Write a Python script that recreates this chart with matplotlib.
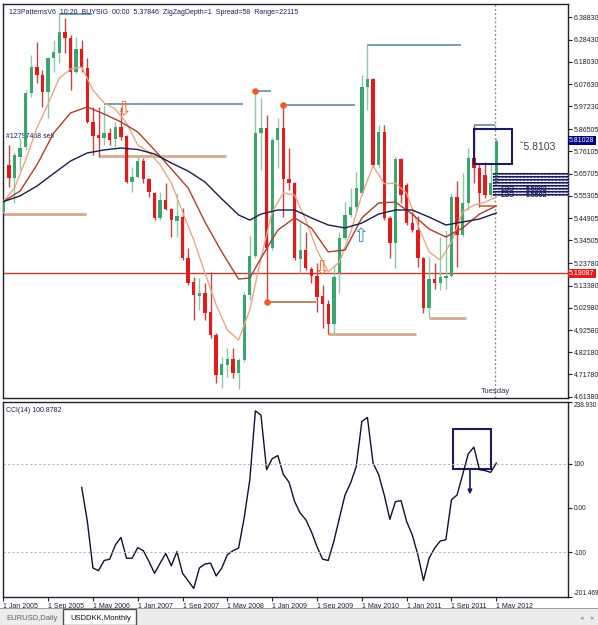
import matplotlib
matplotlib.use("Agg")
import matplotlib.pyplot as plt
import matplotlib.transforms as mtrans
from matplotlib.patches import Rectangle
import numpy as np

plt.rcParams['font.family'] = ['Liberation Sans', 'DejaVu Sans']

# USDDKK monthly bars, Jan 2005 .. May 2012
opens = [5.476, 5.698, 5.635, 5.736, 5.783, 6.033, 6.157, 6.118, 6.040, 6.197,
         6.223, 6.321, 6.290, 6.134, 6.239, 6.150, 5.900, 5.838, 5.825, 5.849,
         5.818, 5.877, 5.833, 5.619, 5.643, 5.718, 5.631, 5.568, 5.448, 5.534,
         5.490, 5.437, 5.456, 5.261, 5.152, 5.085, 5.100, 5.011, 4.902, 4.715,
         4.762, 4.789, 4.723, 4.786, 5.090, 5.272, 5.846, 5.869, 5.308, 5.814,
         5.869, 5.631, 5.615, 5.257, 5.300, 5.210, 5.178, 5.085, 5.047, 4.954,
         5.191, 5.355, 5.464, 5.503, 5.565, 6.064, 6.100, 5.698, 5.853, 5.448,
         5.331, 5.724, 5.604, 5.425, 5.394, 5.261, 5.027, 5.163, 5.144, 5.170,
         5.178, 5.549, 5.370, 5.521, 5.729, 5.682, 5.651, 5.557, 5.612]
highs = [5.538, 5.791, 5.760, 5.822, 6.048, 6.212, 6.274, 6.142, 6.204, 6.282,
         6.402, 6.384, 6.306, 6.298, 6.282, 6.197, 5.970, 5.970, 5.978, 5.869,
         5.900, 5.970, 5.838, 5.690, 5.736, 5.729, 5.635, 5.573, 5.573, 5.612,
         5.495, 5.565, 5.497, 5.308, 5.175, 5.169, 5.146, 5.199, 4.912, 4.801,
         4.842, 4.842, 4.795, 5.105, 5.365, 6.048, 6.011, 5.931, 5.824, 5.916,
         5.978, 5.776, 5.617, 5.426, 5.386, 5.222, 5.239, 5.136, 5.066, 5.230,
         5.386, 5.526, 5.589, 5.666, 6.118, 6.259, 6.104, 5.885, 5.885, 5.459,
         5.740, 5.729, 5.614, 5.479, 5.459, 5.269, 5.269, 5.238, 5.362, 5.394,
         5.568, 5.624, 5.662, 5.776, 5.885, 5.705, 5.713, 5.705, 5.824]
lows = [5.473, 5.596, 5.518, 5.674, 5.768, 6.017, 6.080, 5.970, 5.916, 6.134,
        6.173, 6.220, 6.048, 6.126, 6.134, 5.894, 5.744, 5.736, 5.791, 5.791,
        5.783, 5.814, 5.612, 5.573, 5.635, 5.612, 5.549, 5.440, 5.440, 5.487,
        5.362, 5.362, 5.253, 5.136, 4.973, 5.019, 4.973, 4.888, 4.679, 4.653,
        4.708, 4.701, 4.650, 4.778, 5.066, 5.261, 5.674, 5.058, 5.300, 5.682,
        5.456, 5.581, 5.253, 5.192, 5.207, 5.144, 5.011, 4.934, 4.907, 4.910,
        5.099, 5.347, 5.455, 5.487, 5.557, 5.955, 5.690, 5.683, 5.440, 5.261,
        5.214, 5.518, 5.417, 5.386, 5.222, 5.004, 4.985, 5.116, 5.113, 5.116,
        5.175, 5.222, 5.362, 5.487, 5.612, 5.502, 5.542, 5.549, 5.604]
closes = [5.526, 5.635, 5.744, 5.776, 6.033, 6.157, 6.118, 6.040, 6.197, 6.227,
          6.321, 6.290, 6.134, 6.239, 6.150, 5.900, 5.833, 5.822, 5.849, 5.814,
          5.877, 5.827, 5.619, 5.643, 5.718, 5.631, 5.573, 5.448, 5.534, 5.490,
          5.440, 5.459, 5.261, 5.144, 5.090, 5.100, 5.007, 4.902, 4.715, 4.765,
          4.789, 4.723, 4.786, 5.090, 5.272, 5.846, 5.869, 5.308, 5.814, 5.869,
          5.631, 5.615, 5.261, 5.300, 5.214, 5.178, 5.082, 5.047, 4.954, 5.175,
          5.355, 5.464, 5.503, 5.589, 6.064, 6.100, 5.698, 5.853, 5.448, 5.331,
          5.724, 5.557, 5.425, 5.394, 5.261, 5.027, 5.163, 5.144, 5.175, 5.178,
          5.549, 5.370, 5.521, 5.729, 5.682, 5.565, 5.557, 5.612, 5.8103]

# moving averages as drawn on the chart (read at selected bars)
fast_bars = [0, 2, 4, 6, 8, 10, 12, 14, 16, 18, 20, 22, 24, 26, 28, 30, 32, 34, 36, 38, 40, 42, 44,
             46, 48, 50, 52, 54, 56, 58, 60, 62, 64, 66, 68, 70, 72, 74, 76, 78, 80, 82, 84, 86, 88]
fast_ma = [5.526, 5.590, 5.721, 5.871, 5.983, 6.104, 6.146, 6.156, 6.048, 5.988, 5.959, 5.894,
           5.791, 5.758, 5.698, 5.613, 5.478, 5.347, 5.192, 5.043, 4.926, 4.879, 5.019, 5.262,
           5.478, 5.567, 5.557, 5.440, 5.300, 5.197, 5.244, 5.384, 5.557, 5.693, 5.610, 5.613,
           5.565, 5.417, 5.291, 5.253, 5.337, 5.478, 5.510, 5.524, 5.548]
mid_bars = [0, 3, 6, 9, 12, 15, 18, 21, 24, 27, 30, 33, 36, 39, 42, 44, 46, 49, 52, 55, 58, 61,
            64, 67, 70, 73, 76, 79, 82, 85, 88]
mid_ma = [5.526, 5.576, 5.698, 5.847, 5.941, 5.969, 5.936, 5.899, 5.852, 5.768, 5.679, 5.590,
          5.431, 5.291, 5.164, 5.169, 5.262, 5.393, 5.450, 5.403, 5.291, 5.300, 5.450, 5.520,
          5.524, 5.468, 5.398, 5.361, 5.403, 5.468, 5.506]
slow_bars = mid_bars
slow_ma = [5.526, 5.553, 5.599, 5.658, 5.716, 5.754, 5.768, 5.777, 5.770, 5.749, 5.707, 5.669,
           5.618, 5.539, 5.464, 5.440, 5.468, 5.487, 5.487, 5.450, 5.417, 5.403, 5.426, 5.468,
           5.487, 5.487, 5.454, 5.417, 5.431, 5.445, 5.473]

# CCI(14), bars 14..88
cci_start = 14
cci = [46, -30, -136, -142, -119, -116, -84, -67, -114, -114,
       -90, -97, -121, -148, -125, -103, -131, -99, -148, -165,
       -182, -136, -127, -125, -154, -136, -106, -97, -91, -23,
       63, 219, 209, 86, 111, 118, 75, 58, 14, -12,
       -27, -54, -88, -116, -119, -76, -23, 29, 56, 93,
       195, 204, 101, 75, 29, -26, 14, 16, -31, -61,
       -106, -164, -114, -91, -75, -72, 18, 29, 75, 122,
       137, 86, 84, 80, 100.8782]

price_ticks = [6.38830, 6.28430, 6.18030, 6.07630, 5.97230, 5.86505, 5.76105, 5.65705, 5.55305,
               5.44905, 5.34505, 5.23780, 5.13380, 5.02980, 4.92580, 4.82180, 4.71780, 4.61380]
cci_ticks = [238.93, 100, 0, -100, -201.469]
cci_labels = ['238.930', '100', '0.00', '-100', '-201.469']
date_ticks = [0, 8, 16, 24, 32, 40, 48, 56, 64, 72, 80, 88]
date_labels = ['1 Jan 2005', '1 Sep 2005', '1 May 2006', '1 Jan 2007', '1 Sep 2007', '1 May 2008',
               '1 Jan 2009', '1 Sep 2009', '1 May 2010', '1 Jan 2011', '1 Sep 2011', '1 May 2012']

# 123 pattern levels: (start bar, end bar, price, kind)
levels = [(10, 15.8, 6.402, 'hi'), (18, 42.8, 5.981, 'hi'), (17, 39.8, 5.741, 'lo'),
          (0, 14.8, 5.470, 'lo'), (45, 47.8, 6.045, 'hi'), (50, 62.8, 5.978, 'hi'),
          (47, 55.8, 5.057, 'zz'), (65, 81.7, 6.259, 'hi'), (58, 73.7, 4.907, 'lo'),
          (76, 82.6, 4.984, 'lo'), (84, 87.8, 5.885, 'hi'), (85, 87.8, 5.504, 'zz')]
zz_bars = [45, 47, 50]
zz_prices = [6.045, 5.057, 5.978]
stack_prices = [5.655, 5.640, 5.626, 5.612, 5.598, 5.584, 5.570, 5.556]

bid = 5.81028
line_price = 5.19087

W, H = 598, 625
NAVY = '#1a1a5e'
GREEN, GREEN_W = '#3aa56c', '#8ccaa5'
RED, RED_W = '#e3191c', '#c0464a'

fig = plt.figure(figsize=(W / 100, H / 100), dpi=100)
fig.patch.set_facecolor('white')

def box(l, t, r, b):
    return [l / W, 1 - b / H, (r - l) / W, (b - t) / H]

ax = fig.add_axes(box(3, 4, 568, 398))
ax2 = fig.add_axes(box(3, 402, 568, 597))
for a in (ax, ax2):
    a.set_xlim(-0.05, 100.8)
    for s in a.spines.values():
        s.set_color('#202030')
        s.set_linewidth(1)
ax.set_ylim(4.6078, 6.4505)
ax2.set_ylim(-201.469, 238.93)

# candles
x = np.arange(len(closes))
o = np.array(opens); c = np.array(closes); h = np.array(highs); l = np.array(lows)
up = c >= o
ax.vlines(x[up], l[up], h[up], color=GREEN_W, lw=1, zorder=3)
ax.vlines(x[~up], l[~up], h[~up], color=RED_W, lw=1, zorder=3)
body = np.maximum(np.abs(c - o), 0.004)
ax.bar(x[up], body[up], bottom=np.minimum(o, c)[up], width=0.6, color=GREEN, zorder=4)
ax.bar(x[~up], body[~up], bottom=np.minimum(o, c)[~up], width=0.6, color=RED, zorder=4)

# moving averages
ax.plot(fast_bars, fast_ma, color='#e4a886', lw=1, zorder=5)
ax.plot(mid_bars, mid_ma, color='#a8402c', lw=1, zorder=5)
ax.plot(slow_bars, slow_ma, color='#1c1c48', lw=1, zorder=5)

# pattern levels
lvl_style = {'hi': ('#5b8fae', 1.2), 'lo': ('#d6ab8c', 2), 'zz': ('#b86a48', 1.2)}
for x0, x1, p, k in levels:
    col, lw = lvl_style[k]
    ax.plot([x0, x1], [p, p], color=col, lw=lw, zorder=2, solid_capstyle='butt')
ax.scatter(zz_bars, zz_prices, s=22, color='#f05a1e', zorder=6, linewidths=0)

ax.axhline(line_price, color='#b8402e', lw=1, zorder=2)
ax.axvline(87.8, color='#909090', lw=1, ls=(0, (1.5, 1.5)), zorder=1)
ax.text(87.8, 4.622, 'Tuesday', ha='center', va='bottom', fontsize=5.5, color='#303040')

# signal arrows
arrow_kw = dict(ha='center', fontsize=14, family='DejaVu Sans', zorder=7)
ax.text(21.6, 6.000, '\u21e9', va='top', color='#ff6a28', **arrow_kw)
ax.text(56.9, 5.258, '\u21e9', va='top', color='#ff6a28', **arrow_kw)
ax.text(63.8, 5.318, '\u21e7', va='bottom', color='#3e8fd8', **arrow_kw)

# signal box and text
ax.add_patch(Rectangle((84.05, 5.702), 6.75, 0.162, fill=False, ec=NAVY, lw=1.5, zorder=8))
ax.text(92.3, 5.783, '\u02c75.8103', fontsize=7.5, color='#404048', va='center', zorder=8)

# stacked level labels
for p in stack_prices:
    ax.plot([87.6, 100.8], [p, p], color=NAVY, lw=1.5, zorder=8, clip_on=False)
    ax.plot([87.6, 100.8], [p, p], color='white', lw=0.5, ls=(0, (1, 1)), zorder=9, clip_on=False)
for xt in (88.8, 93.2):
    ax.text(xt, 5.556, '\u0415\u0417\u042d' if xt < 90 else '5.5502', fontsize=5, color=NAVY,
            va='center', zorder=10, fontweight='bold')
    ax.text(xt, 5.585, '\u0415\u0417\u042d' if xt < 90 else '5.5802', fontsize=5, color=NAVY,
            va='center', zorder=10, fontweight='bold')

ax.text(0.01, 0.988, '123PatternsV6  10:20  BUYSIG  00:00  5.37846  ZigZagDepth=1  Spread=58  Range=22115',
        transform=ax.transAxes, fontsize=5, color=NAVY, va='top')
ax.text(0.5, 5.83, '#12797468 sell', fontsize=5, color=NAVY, va='center')

# price axis
ax.yaxis.tick_right()
ax.set_yticks(price_ticks)
ax.set_yticklabels(['%.5f' % p for p in price_ticks])
ax.tick_params(axis='y', length=3, width=0.8, pad=1, labelsize=5, colors='#202030')
ax.set_xticks([])
tr = mtrans.blended_transform_factory(ax.transAxes, ax.transData)
ax.text(1.002, bid, '%.5f' % bid, transform=tr, fontsize=5, color='white', va='center', ha='left',
        bbox=dict(boxstyle='square,pad=0.15', fc='#000080', ec='none'), zorder=20, clip_on=False)
ax.text(1.002, line_price, '%.5f' % line_price, transform=tr, fontsize=5, color='white', va='center',
        ha='left', bbox=dict(boxstyle='square,pad=0.15', fc='#e02020', ec='none'), zorder=20, clip_on=False)

# CCI panel
xc = np.arange(cci_start, cci_start + len(cci))
ax2.plot(xc, cci, color='#101030', lw=1)
for g in (100, -100):
    ax2.axhline(g, color='#b8b8b8', lw=0.8, ls=(0, (2, 2)))
ax2.add_patch(Rectangle((80.25, 88), 6.75, 90.6, fill=False, ec=NAVY, lw=1.5))
ax2.annotate('', xy=(83.3, 24), xytext=(83.3, 92),
             arrowprops=dict(arrowstyle='-|>', color=NAVY, lw=1.2, mutation_scale=6))
ax2.text(0.006, 0.975, 'CCI(14) 100.8782', transform=ax2.transAxes, fontsize=5, color=NAVY, va='top')
ax2.yaxis.tick_right()
ax2.set_yticks(cci_ticks)
ax2.set_yticklabels(cci_labels)
ax2.tick_params(axis='y', length=3, width=0.8, pad=1, labelsize=4.7, colors='#202030')
ylabs = ax2.get_yticklabels()
ylabs[0].set_va('top')
ylabs[-1].set_va('bottom')
ax2.set_xticks(date_ticks)
ax2.set_xticklabels(date_labels, ha='left')
ax2.tick_params(axis='x', length=3, width=0.8, pad=1, labelsize=5, colors='#202030')

# tab bar
fig.patches.append(Rectangle((0, 0), 1, 16 / H, transform=fig.transFigure, fc='#ececec', ec='none'))
fig.patches.append(Rectangle((0, 16 / H), 1, 1 / H, transform=fig.transFigure, fc='#a0a0a0', ec='none'))
fig.patches.append(Rectangle((63 / W, 0), 73 / W, 16 / H, transform=fig.transFigure, fc='white', ec='#505050', lw=1))
fig.text(6 / W, 7 / H, 'EURUSD,Daily', fontsize=5.5, color='#606060', va='center')
fig.text(70 / W, 7 / H, 'USDDKK,Monthly', fontsize=5.5, color='#101010', va='center')
fig.text(580 / W, 7 / H, '\u25c2', fontsize=5, color='#a0a0a0', va='center', family='DejaVu Sans')
fig.text(591 / W, 7 / H, '\u25b8', fontsize=5, color='#a0a0a0', va='center', family='DejaVu Sans')

fig.savefig('out.png', dpi=100)
